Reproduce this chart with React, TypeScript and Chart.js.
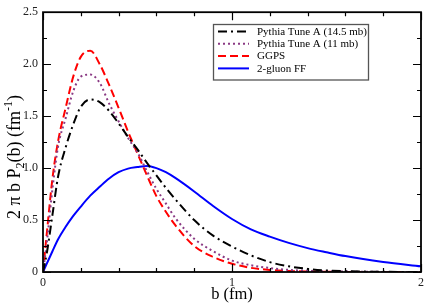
import React, { useEffect, useRef } from "react";
import { Chart, registerables } from "chart.js";

Chart.register(...registerables);

// impact parameter b (fm)
const bValues = [0, 0.02, 0.05, 0.08, 0.12, 0.16, 0.2, 0.25, 0.3, 0.35, 0.4, 0.45, 0.5, 0.55, 0.6, 0.65, 0.7, 0.8, 0.9, 1.0, 1.1, 1.2, 1.3, 1.4, 1.5, 1.6, 1.8, 2.0];

const pythia145 = [0, 0.18, 0.55, 0.92, 1.2, 1.42, 1.59, 1.66, 1.635, 1.55, 1.43, 1.3, 1.18, 1.05, 0.93, 0.81, 0.7, 0.5, 0.35, 0.245, 0.16, 0.095, 0.055, 0.03, 0.015, 0.008, 0.002, 0];
const pythia11 = [0, 0.28, 0.8, 1.21, 1.48, 1.74, 1.88, 1.9, 1.82, 1.62, 1.45, 1.29, 1.15, 0.97, 0.8, 0.66, 0.52, 0.32, 0.2, 0.11, 0.065, 0.038, 0.02, 0.012, 0.007, 0.004, 0.001, 0];
const ggps = [0, 0.37, 0.9, 1.26, 1.58, 1.88, 2.07, 2.13, 2.0, 1.8, 1.58, 1.35, 1.14, 0.93, 0.73, 0.58, 0.45, 0.25, 0.145, 0.08, 0.04, 0.02, 0.01, 0.005, 0.003, 0.001, 0, 0];
const gluonFF = [0, 0.08, 0.2, 0.315, 0.435, 0.54, 0.63, 0.735, 0.82, 0.9, 0.96, 0.995, 1.01, 1.02, 1.0, 0.96, 0.905, 0.775, 0.635, 0.51, 0.41, 0.34, 0.28, 0.23, 0.19, 0.153, 0.097, 0.055];

const seriesLabels = ["Pythia Tune A (14.5 mb)", "Pythia Tune A (11 mb)", "GGPS", "2-gluon FF"];

const xTickValues = [0, 1, 2];
const yTickValues = [0, 0.5, 1, 1.5, 2, 2.5];
const xMinorTicks = [0, 0.2, 0.4, 0.6, 0.8, 1, 1.2, 1.4, 1.6, 1.8, 2];
const yMinorTicks = [0, 0.25, 0.5, 0.75, 1, 1.25, 1.5, 1.75, 2, 2.25, 2.5];

const SERIF = "'Liberation Serif', 'Times New Roman', serif";

const toPoints = (ys: number[]) => bValues.map((b, i) => ({ x: b, y: ys[i] }));

const decorPlugin = {
  id: "decor",
  afterDraw(chart: any) {
    const { ctx, chartArea: ca, scales } = chart;
    const xs = scales.x;
    const ys = scales.y;
    ctx.save();
    // inward ticks
    ctx.strokeStyle = "#000";
    ctx.lineWidth = 1.2;
    ctx.beginPath();
    xMinorTicks.forEach((v) => {
      const px = Math.round(xs.getPixelForValue(v)) + 0.5;
      const len = xTickValues.includes(v) ? 8 : 4;
      ctx.moveTo(px, ca.bottom);
      ctx.lineTo(px, ca.bottom - len);
      ctx.moveTo(px, ca.top);
      ctx.lineTo(px, ca.top + len);
    });
    yMinorTicks.forEach((v) => {
      const py = Math.round(ys.getPixelForValue(v)) + 0.5;
      const len = yTickValues.includes(v) ? 8 : 4;
      ctx.moveTo(ca.left, py);
      ctx.lineTo(ca.left + len, py);
      ctx.moveTo(ca.right, py);
      ctx.lineTo(ca.right - len, py);
    });
    ctx.stroke();
    // frame
    ctx.lineWidth = 1.8;
    ctx.strokeRect(ca.left, ca.top, ca.right - ca.left, ca.bottom - ca.top);

    // legend
    const lx = 213.5, ly = 24.5, lw = 155, lh = 55.5;
    ctx.fillStyle = "#fff";
    ctx.fillRect(lx, ly, lw, lh);
    ctx.strokeStyle = "#555";
    ctx.lineWidth = 1.3;
    ctx.strokeRect(lx, ly, lw, lh);
    chart.data.datasets.forEach((ds: any, i: number) => {
      const yy = 31.5 + i * 12.3;
      ctx.save();
      ctx.strokeStyle = ds.borderColor;
      ctx.lineWidth = ds.borderWidth;
      ctx.setLineDash(ds.borderDash || []);
      ctx.beginPath();
      ctx.moveTo(218, yy);
      ctx.lineTo(249, yy);
      ctx.stroke();
      ctx.restore();
      ctx.fillStyle = "#000";
      ctx.font = `11px ${SERIF}`;
      ctx.textBaseline = "middle";
      ctx.textAlign = "left";
      ctx.fillText(ds.label, 257, yy + 0.5);
    });

    // x axis title
    ctx.fillStyle = "#000";
    ctx.font = `16.5px ${SERIF}`;
    ctx.textAlign = "center";
    ctx.textBaseline = "alphabetic";
    ctx.fillText("b (fm)", (ca.left + ca.right) / 2, 299);

    // y axis title with sub/superscripts
    const big = 18, small = 12;
    const parts: [string, number, number][] = [
      ["2 \u03c0 b P", big, 0],
      ["2", small, 4],
      ["(b) (fm", big, 0],
      ["-1", small, -8],
      [")", big, 0],
    ];
    let total = 0;
    parts.forEach(([t, s]) => {
      ctx.font = `${s}px ${SERIF}`;
      total += ctx.measureText(t).width;
    });
    ctx.translate(19.5, 157);
    ctx.rotate(-Math.PI / 2);
    ctx.textAlign = "left";
    let cx = -total / 2;
    parts.forEach(([t, s, dy]) => {
      ctx.font = `${s}px ${SERIF}`;
      ctx.fillText(t, cx, dy);
      cx += ctx.measureText(t).width;
    });
    ctx.restore();
  },
};

export default function App() {
  const ref = useRef<HTMLCanvasElement | null>(null);
  useEffect(() => {
    if (!ref.current) return;
    const chart = new Chart(ref.current, {
      type: "line",
      data: {
        datasets: [
          { label: seriesLabels[0], data: toPoints(pythia145), borderColor: "#000000", borderWidth: 2, borderDash: [9, 4, 2, 4], pointRadius: 0, cubicInterpolationMode: "monotone", fill: false },
          { label: seriesLabels[1], data: toPoints(pythia11), borderColor: "#8a3a84", borderWidth: 2, borderDash: [2, 3], pointRadius: 0, cubicInterpolationMode: "monotone", fill: false },
          { label: seriesLabels[2], data: toPoints(ggps), borderColor: "#ff0000", borderWidth: 2, borderDash: [8, 4], pointRadius: 0, cubicInterpolationMode: "monotone", fill: false },
          { label: seriesLabels[3], data: toPoints(gluonFF), borderColor: "#0000ff", borderWidth: 2, pointRadius: 0, cubicInterpolationMode: "monotone", fill: false },
        ],
      },
      options: {
        animation: false,
        responsive: false,
        maintainAspectRatio: false,
        layout: { padding: { top: 5, right: 4, left: 0, bottom: 0 } },
        plugins: { legend: { display: false }, tooltip: { enabled: false }, title: { display: false } },
        scales: {
          x: {
            type: "linear",
            min: 0,
            max: 2,
            afterBuildTicks: (s: any) => { s.ticks = xTickValues.map((v) => ({ value: v })); },
            afterFit: (s: any) => { s.height = 31; },
            ticks: { padding: 4, color: "#222", font: { family: SERIF, size: 12 }, maxRotation: 0, autoSkip: false },
            grid: { display: false, drawTicks: false },
            border: { display: false },
          },
          y: {
            type: "linear",
            min: 0,
            max: 2.5,
            afterBuildTicks: (s: any) => { s.ticks = yTickValues.map((v) => ({ value: v })); },
            afterFit: (s: any) => { s.width = 43; },
            ticks: { padding: 5, color: "#222", font: { family: SERIF, size: 12 }, autoSkip: false },
            grid: { display: false, drawTicks: false },
            border: { display: false },
          },
        },
      },
      plugins: [decorPlugin],
    } as any);
    return () => chart.destroy();
  }, []);
  return (
    <div style={{ position: "absolute", left: 0, top: 0, width: 428, height: 303, background: "#fff" }}>
      <canvas ref={ref} width={428} height={303} style={{ display: "block" }} />
    </div>
  );
}
